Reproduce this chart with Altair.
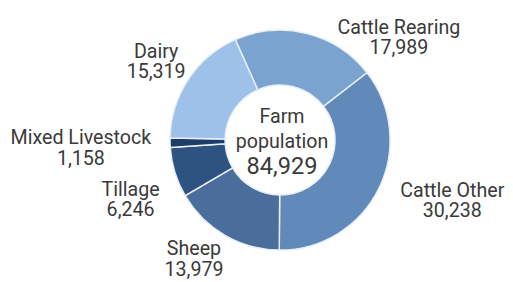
import math
import altair as alt
import pandas as pd

categories = ["Cattle Rearing", "Cattle Other", "Sheep", "Tillage", "Mixed Livestock", "Dairy"]
values = [17989, 30238, 13979, 6246, 1158, 15319]
value_labels = ["17,989", "30,238", "13,979", "6,246", "1,158", "15,319"]
colors = ["#7aa3cf", "#6189b9", "#4a6d9c", "#2f5381", "#1d3d69", "#9dc1e8"]
center_lines = ["Farm", "population", "84,929"]

# layout
W, H = 497, 266
CX, CY = 277, 132
R_OUT, R_IN = 112, 56
START = math.radians(-24)
label_angle_shift = [35.2, -6.8, 5.7, -4.8, -1.1, -1.4]   # degrees from slice middle
label_radius = [159.5, 186, 150, 164, 203, 149]
LINE_H = 21

total = sum(values)
rows = []
cum = 0
for i, (c, v) in enumerate(zip(categories, values)):
    mid = START + 2 * math.pi * (cum + v / 2) / total
    a = mid + math.radians(label_angle_shift[i])
    rows.append({
        "category": c, "value": v, "order": i,
        "label": c + "\n" + value_labels[i],
        "lx": CX + label_radius[i] * math.sin(a),
        "ly": CY - label_radius[i] * math.cos(a),
    })
    cum += v
df = pd.DataFrame(rows)

arcs = alt.Chart(df).mark_arc(
    innerRadius=R_IN, outerRadius=R_OUT, stroke="#e8eef5", strokeWidth=1.5
).encode(
    theta=alt.Theta("value:Q", stack=True,
                    scale=alt.Scale(range=[START, START + 2 * math.pi])),
    order=alt.Order("order:Q"),
    color=alt.Color("category:N", scale=alt.Scale(domain=categories, range=colors), legend=None),
    x=alt.value(CX), y=alt.value(CY),
)

labels = alt.Chart(df).mark_text(
    font="Roboto", fontSize=20, color="#3a3a3a", lineBreak="\n",
    align="center", baseline="middle", lineHeight=LINE_H, dy=-LINE_H / 2,
).encode(
    x=alt.X("lx:Q", scale=None),
    y=alt.Y("ly:Q", scale=None),
    text="label:N",
)

cdf = pd.DataFrame({
    "t": center_lines,
    "cy": [CY - 23, CY + 2, CY + 28],
    "fs": [20, 20, 24],
})
center = alt.Chart(cdf).mark_text(
    font="Roboto", color="#3a3a3a", align="center", baseline="middle"
).encode(
    x=alt.value(CX + 2),
    y=alt.Y("cy:Q", scale=None),
    text="t:N",
    size=alt.Size("fs:Q", scale=None, legend=None),
)

chart = alt.layer(arcs, labels, center).properties(
    width=W, height=H, padding=0, background="white"
).configure_view(strokeWidth=0)

chart.save("out.html", embed_options={"renderer": "svg", "actions": False})
